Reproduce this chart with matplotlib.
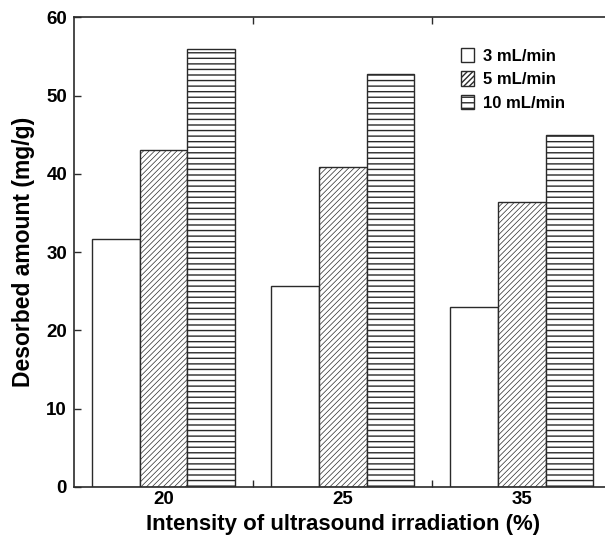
import matplotlib
matplotlib.use("Agg")
import matplotlib.pyplot as plt
import numpy as np

categories = ["20", "25", "35"]
series_names = ["3 mL/min", "5 mL/min", "10 mL/min"]
flow_3 = [31.7, 25.7, 23.0]
flow_5 = [43.1, 40.9, 36.4]
flow_10 = [55.9, 52.7, 44.9]
yticks = [0, 10, 20, 30, 40, 50, 60]

plt.rcParams['font.family'] = ['Liberation Sans', 'DejaVu Sans']
plt.rcParams['font.weight'] = 'bold'

fig = plt.figure(figsize=(6.05, 5.46), dpi=100)
ax = fig.add_axes([0.1223, 0.1081, 0.8886, 0.8603])

x = np.arange(len(categories))
w = 0.266
edge = '#2a2a2a'
styles = [
    (flow_3, '', 0.6),
    (flow_5, '//////', 0.5),
    (flow_10, '---', 1.0),
]
handles = []
for i, (vals, hatch, hlw) in enumerate(styles):
    with plt.rc_context({'hatch.linewidth': hlw, 'hatch.color': '#111111'}):
        bars = ax.bar(x + (i - 1) * w, vals, w, color='white', edgecolor=edge,
                      linewidth=1.0, hatch=hatch, label=series_names[i])
        for b in bars:
            if hasattr(b, 'set_hatch_linewidth'):
                b.set_hatch_linewidth(hlw)
    handles.append(bars)

ax.set_xlim(-0.5, 2.5)
ax.set_ylim(0, 60)
ax.set_yticks(yticks)
ax.set_yticklabels([str(t) for t in yticks], fontsize=13.5, fontweight='bold')

ax.set_xticks(x)
ax.set_xticklabels(categories, fontsize=13.5, fontweight='bold')
ax.tick_params(axis='x', which='major', length=0, pad=3)
ax.set_xticks([0.5, 1.5], minor=True)
ax.tick_params(axis='x', which='minor', direction='in', length=5, width=1.0,
               top=True, bottom=True, color=edge)
ax.tick_params(axis='y', which='major', direction='in', length=5, width=1.0,
               left=True, right=True, pad=5, color=edge)

for s in ax.spines.values():
    s.set_linewidth(1.2)
    s.set_color(edge)
ax.spines['right'].set_visible(False)

ax.set_xlabel("Intensity of ultrasound irradiation (%)", fontsize=16,
              fontweight='bold', labelpad=4)
ax.set_ylabel("Desorbed amount (mg/g)", fontsize=16.5, fontweight='bold',
              labelpad=8)

leg = ax.legend(handles=handles, loc='upper left',
                bbox_to_anchor=(0.692, 0.967), frameon=False,
                prop={'size': 12, 'weight': 'bold'},
                handlelength=0.8, handleheight=0.95, handletextpad=0.5,
                labelspacing=0.45)

fig.savefig("out.png", dpi=100)
